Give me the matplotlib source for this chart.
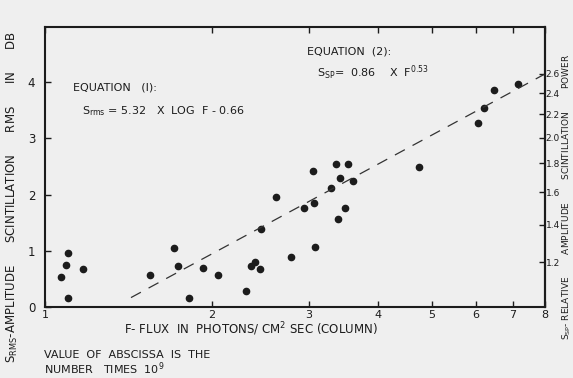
import numpy as np
import matplotlib
matplotlib.use("Agg")
import matplotlib.pyplot as plt

# flux F (units of 1e9 photons / cm^2 sec) and rms scintillation (dB)
flux = [1.07, 1.09, 1.10, 1.10, 1.17, 1.55, 1.71, 1.74, 1.82, 1.93,
        2.05, 2.31, 2.36, 2.40, 2.45, 2.46, 2.61, 2.78, 2.94, 3.05,
        3.06, 3.07, 3.29, 3.36, 3.39, 3.41, 3.49, 3.53, 3.60, 4.73,
        6.05, 6.20, 6.47, 7.15]
s_rms = [0.53, 0.75, 0.96, 0.16, 0.68, 0.57, 1.05, 0.73, 0.16, 0.69,
         0.57, 0.28, 0.73, 0.80, 0.68, 1.39, 1.96, 0.89, 1.76, 2.42,
         1.85, 1.07, 2.12, 2.54, 1.57, 2.30, 1.76, 2.54, 2.24, 2.49,
         3.27, 3.54, 3.86, 3.97]

# equation (1) fit line
fit_a, fit_b = 5.32, -0.66
fit_f = [1.43, 8.0]

x_ticks = [1, 2, 3, 4, 5, 6, 7, 8]
y_ticks = [0, 1, 2, 3, 4]
power_ticks = [1.2, 1.4, 1.6, 1.8, 2.0, 2.2, 2.4, 2.6]
power_labels = ["1.2", "1.4", "1.6", "1.8", "2.0", "2.2", "2.4", "2.6"]

ink = "#1c1c1c"
paper = "#efefef"
plt.rcParams["font.family"] = "DejaVu Sans"

fig = plt.figure(figsize=(5.73, 3.78), dpi=100, facecolor=paper)
ax = fig.add_axes([0.0785, 0.188, 0.8725, 0.7405])
ax.set_facecolor(paper)

ax.plot(flux, s_rms, "o", color=ink, ms=4.5, mec=ink)
ff = np.array(fit_f)
ax.plot(ff, fit_a * np.log10(ff) + fit_b, color="#333333", lw=0.9,
        dashes=(9, 7))

ax.set_xscale("log")
ax.set_xlim(1, 8)
ax.set_ylim(0, 4.98)
ax.set_xticks(x_ticks)
ax.set_xticklabels([str(t) for t in x_ticks])
ax.xaxis.set_minor_locator(matplotlib.ticker.NullLocator())
ax.set_yticks(y_ticks)
ax.set_yticklabels([str(t) for t in y_ticks])
ax.tick_params(direction="in", length=4, width=1, colors=ink, labelsize=8.5,
               top=True)
ax.tick_params(axis="y", pad=7)
ax.tick_params(axis="x", pad=2, labelsize=8)
for s in ax.spines.values():
    s.set_linewidth(1.5)
    s.set_color(ink)

# right axis: power ratio of the dB scale
sec = ax.secondary_yaxis("right", functions=(lambda d: 10 ** (d / 10),
                                             lambda r: 10 * np.log10(np.clip(r, 1e-6, None))))
sec.set_yticks(power_ticks)
sec.set_yticklabels(power_labels)
sec.tick_params(direction="in", length=4, width=1, colors=ink, labelsize=6.5, pad=0.5)
sec.spines["right"].set_linewidth(1.5)

fig.text(0.021, 0.48,
         r"S$_{\mathrm{RMS}}$-AMPLITUDE      SCINTILLATION      RMS      IN      DB",
         rotation=90, ha="center", va="center", fontsize=8.5, color=ink)
fig.text(0.989, 0.48,
         r"S$_{\mathrm{SP}}$- RELATIVE        AMPLITUDE        SCINTILLATION        POWER",
         rotation=90, ha="center", va="center", fontsize=6.5, color=ink)

fig.text(0.437, 0.128, r"F- FLUX  IN  PHOTONS/ CM$^2$ SEC (COLUMN)",
         ha="center", va="center", fontsize=8.5, color=ink)
fig.text(0.077, 0.060, "VALUE  OF  ABSCISSA  IS  THE",
         ha="left", va="center", fontsize=8, color=ink)
fig.text(0.077, 0.024, "NUMBER   TIMES  10$^9$",
         ha="left", va="center", fontsize=8, color=ink)

ax.text(0.056, 0.785, "EQUATION   (I):", transform=ax.transAxes,
        fontsize=8, color=ink, va="center")
ax.text(0.074, 0.70, r"S$_{\mathrm{rms}}$ = 5.32   X  LOG  F - 0.66",
        transform=ax.transAxes, fontsize=8, color=ink, va="center")
ax.text(0.524, 0.911, "EQUATION  (2):", transform=ax.transAxes,
        fontsize=8, color=ink, va="center")
ax.text(0.544, 0.837, r"S$_{\mathrm{SP}}$=  0.86    X  F$^{0.53}$",
        transform=ax.transAxes, fontsize=8, color=ink, va="center")

fig.savefig("out.png", dpi=100, facecolor=paper)
